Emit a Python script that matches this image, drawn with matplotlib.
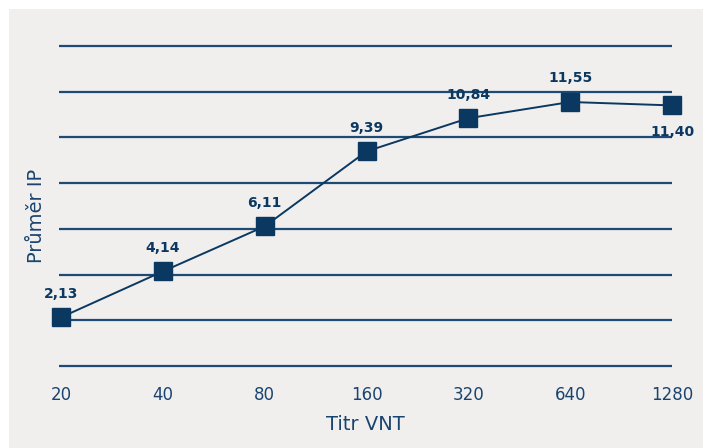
import matplotlib.pyplot as plt
from matplotlib.patches import Rectangle

# Data
titr = ['20', '40', '80', '160', '320', '640', '1280']
prumer_ip = [2.13, 4.14, 6.11, 9.39, 10.84, 11.55, 11.40]
popisky = ['2,13', '4,14', '6,11', '9,39', '10,84', '11,55', '11,40']
pod_bodem = [False, False, False, False, False, False, True]

navy = '#0b3861'
text_col = '#1a4470'
grid_col = '#1d4b75'
bg = '#f0efee'

plt.rcParams['font.family'] = ['DejaVu Sans']

fig = plt.figure(figsize=(7.03, 4.48), dpi=100)
fig.patches.append(Rectangle((9 / 703, 0), 1, 1 - 9 / 448, transform=fig.transFigure,
                             facecolor=bg, edgecolor='none', zorder=-5))

# y 0..14 sits between pixel rows 366 and 46, padded a little so the edge lines are not clipped
ax = fig.add_axes([59 / 703, 79.7 / 448, 613 / 703, 324.6 / 448])
ax.set_facecolor('none')

x = list(range(len(titr)))
ax.plot(x, prumer_ip, color=navy, linewidth=1.4, marker='s', markersize=13.5,
        markerfacecolor=navy, markeredgecolor=navy, clip_on=False, zorder=3)

for xi, v, lab, pod in zip(x, prumer_ip, popisky, pod_bodem):
    off = -19 if pod else 17
    ax.annotate(lab, (xi, v), xytext=(0, off), textcoords='offset points',
                ha='center', va='center', fontsize=10, fontweight='bold', color=navy)

ax.set_xlim(-0.02, 6)
ax.set_ylim(-0.1, 14.1)
ax.set_yticks(range(0, 15, 2))
ax.yaxis.grid(True, color=grid_col, linewidth=1.6)
ax.tick_params(axis='y', left=False, labelleft=False)
ax.tick_params(axis='x', bottom=False, labelsize=12, labelcolor=text_col, pad=9)
ax.set_xticks(x)
ax.set_xticklabels(titr)
for s in ax.spines.values():
    s.set_visible(False)

ax.set_xlabel('Titr VNT', fontsize=14, color=text_col, labelpad=8)
fig.text(36 / 703, 1 - 216 / 448, 'Průměr IP', rotation=90, ha='center', va='center',
         fontsize=14, color=text_col)

fig.savefig('out.png', dpi=100)
